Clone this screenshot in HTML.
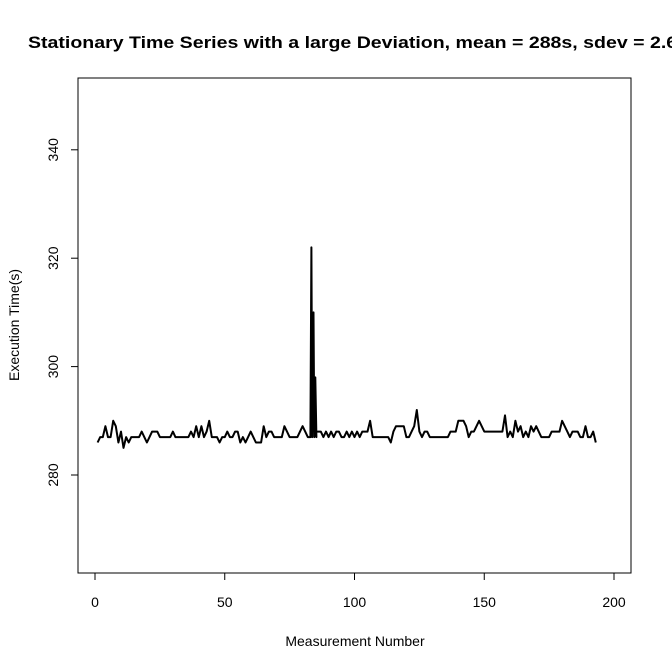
<!DOCTYPE html>
<html><head><meta charset="utf-8"><style>body{margin:0;background:#fff}svg{display:block;font-family:"Liberation Sans",Arial,sans-serif}</style></head>
<body>
<svg id="chart" width="672" height="671" xmlns="http://www.w3.org/2000/svg">
<text x="28" y="48" font-size="17" font-weight="bold" textLength="660" lengthAdjust="spacingAndGlyphs">Stationary Time Series with a large Deviation, mean = 288s, sdev = 2.6s</text>
<rect x="78" y="78" width="553" height="495" fill="none" stroke="#000"/>
<g id="xaxis"></g>
<g id="yaxis"></g>
<text x="355" y="646" font-size="14" text-anchor="middle">Measurement Number</text>
<text transform="translate(19,325) rotate(-90)" font-size="14" text-anchor="middle">Execution Time(s)</text>
<path id="line" fill="none" stroke="#000" stroke-width="2" stroke-linejoin="round"/>
</svg>
<script>
const xTicks=[0,50,100,150,200];
const yTicks=[280,300,320,340];
const valuesA=[286,287,287,289,287,287,290,289,286,288,285,287,286,287,287,287,287,288,287,286,
287,288,288,288,287,287,287,287,287,288,287,287,287,287,287,287,288,287,289,287,
289,287,288,290,287,287,287,286,287,287,288,287,287,288,288,286,287,286,287,288,
287,286,286,286,289,287,288,288,287,287,287,287,289,288,287,287,287,287,288,289,
288,287,287];
const spikeX=[83.4,83.7,84.2,84.5,84.9,85.3];
const spikeY=[322,287,310,287,298,287];
const valuesB=[288,288,288,287,288,287,288,287,288,288,287,
287,288,287,288,287,288,287,288,288,288,290,287,287,287,287,287,287,287,286,288,
289,289,289,289,287,287,288,289,292,288,287,288,288,287,287,287,287,287,287,287,
287,288,288,288,290,290,290,289,287,288,288,289,290,289,288,288,288,288,288,288,
288,288,291,287,288,287,290,288,289,287,288,287,289,288,289,288,287,287,287,287,
288,288,288,288,290,289,288,287,288,288,288,287,287,289,287,287,288,286];
const NS="http://www.w3.org/2000/svg";
const sx=v=>95+v*2.595, sy=v=>475-(v-280)*5.42;
const xa=document.getElementById('xaxis'), ya=document.getElementById('yaxis');
function mk(t,a,p){const e=document.createElementNS(NS,t);for(const k in a)e.setAttribute(k,a[k]);p.appendChild(e);return e;}
let l=mk('line',{x1:sx(0),x2:sx(200),y1:573,y2:573,stroke:'#000'},xa);


xTicks.forEach(t=>{const tk=mk('line',{x1:sx(t),x2:sx(t),y1:573,y2:580,stroke:'#000'},xa);


const tx=mk('text',{x:sx(t),y:607,'font-size':14,'text-anchor':'middle'},xa);tx.textContent=t;

});
l=mk('line',{x1:78,x2:78,y1:sy(280),y2:sy(340),stroke:'#000'},ya);


yTicks.forEach(t=>{const tk=mk('line',{x1:71,x2:78,y1:sy(t),y2:sy(t),stroke:'#000'},ya);


const tx=mk('text',{transform:`translate(58,${sy(t)}) rotate(-90)`,'font-size':14,'text-anchor':'middle'},ya);tx.textContent=t;

});
const pts=[];
valuesA.forEach((v,i)=>pts.push([i+1,v]));
spikeX.forEach((x,i)=>pts.push([x,spikeY[i]]));
valuesB.forEach((v,i)=>pts.push([valuesA.length+2+i,v]));
document.getElementById('line').setAttribute('d',pts.map((p,i)=>(i?'L':'M')+sx(p[0]).toFixed(1)+','+sy(p[1]).toFixed(1)).join(''));
</script>
</body></html>
